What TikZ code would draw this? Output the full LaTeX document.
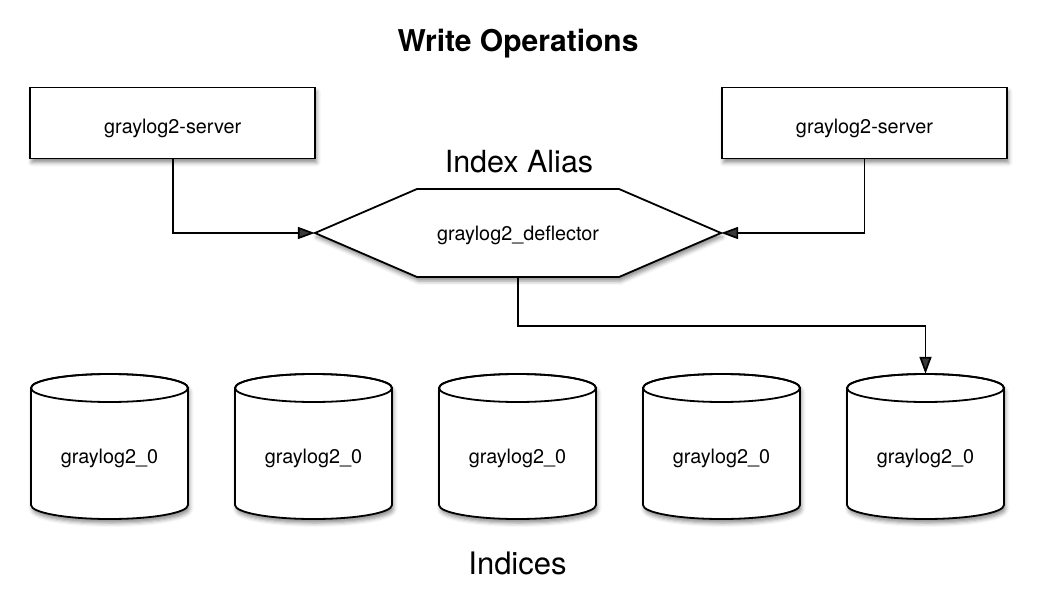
\documentclass[tikz,border=0pt]{standalone}
\usepackage{fontspec}
\setmainfont{TeX Gyre Heros}
\usetikzlibrary{arrows.meta,shadows.blur}
\begin{document}
\begin{tikzpicture}[x=1pt,y=-1pt,
  shade/.style={blur shadow={shadow xshift=1.5pt,shadow yshift=-4pt,shadow blur radius=4pt,shadow opacity=45}},
  lbl/.style={font=\fontsize{19.8}{24}\selectfont},
  srvbox/.style={draw,line width=1.8pt,fill=white,shade,minimum width=285pt,minimum height=71pt,
     lbl,text height=20pt,text depth=0pt,inner sep=0pt},
  hold/.style={inner sep=0pt,lbl,text depth=0pt},
  conn/.style={line width=1.7pt,-{Triangle[length=17pt,width=12pt]}},
  cylpath/.style={draw,line width=1.8pt,fill=white}
]
\useasboundingbox (0,0) rectangle (1038,610);

\node[anchor=base,font=\fontsize{30}{36}\selectfont\bfseries] (title) at (518,52) {Write Operations};
\node[anchor=base,font=\fontsize{30.5}{36}\selectfont] (alias) at (519,172) {Index Alias};
\node[anchor=base,font=\fontsize{31}{37}\selectfont] (indices) at (517.5,574) {Indices};

\node[srvbox] (lsrv) at (172.75,123) {graylog2-server};
\node[srvbox] (rsrv) at (864.5,123) {graylog2-server};

% hexagon
\draw[line width=1.8pt,fill=white,shade,line join=miter]
  (315,233) -- (417,189) -- (619,189) -- (721,233) -- (619,277) -- (417,277) -- cycle;
\node[hold,minimum width=406pt,minimum height=88pt,text height=14pt] (defl) at (518,233) {graylog2\_deflector};

% cylinders
\foreach \i in {1,...,5}{
  \pgfmathsetmacro{\cx}{109.5+204*(\i-1)}
  \draw[cylpath,shade] (\cx-78.5,388) -- (\cx-78.5,505) arc[start angle=180,end angle=360,x radius=78.5,y radius=-14] -- (\cx+78.5,388) arc[start angle=0,end angle=180,x radius=78.5,y radius=-14] -- cycle;
  \draw[line width=1.8pt] (\cx,388) ellipse[x radius=78.5,y radius=14];
  \node[hold,minimum width=157pt,minimum height=145pt,text height=33pt] (c\i) at (\cx,446.5) {graylog2\_0};
}

\draw[conn] (lsrv.south) |- (defl.west);
\draw[conn] (rsrv.south) |- (defl.east);
\draw[conn] (defl.south) -- ++(0,49) -| (c5.north);
\end{tikzpicture}
\end{document}
